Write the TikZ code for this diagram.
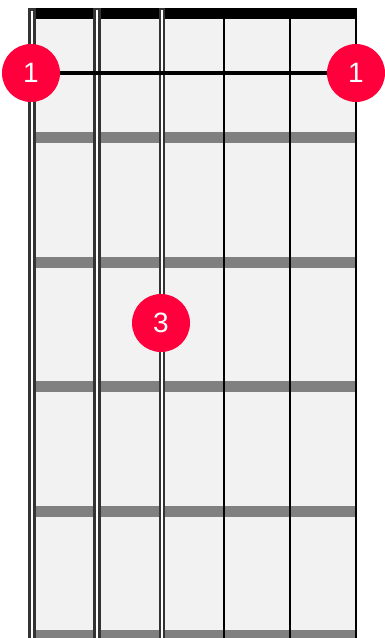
\documentclass[tikz,border=0pt]{standalone}
\usepackage{fontspec}
\setsansfont{Liberation Sans}
\usetikzlibrary{positioning}
\definecolor{Board}{HTML}{F2F2F2}
\definecolor{Fret}{HTML}{808080}
\definecolor{Wound}{HTML}{333333}
\definecolor{Finger}{HTML}{FF003C}

\begin{document}
\begin{tikzpicture}[x=1pt,y=-1pt,
  fretbar/.style={fill=Fret},
  wound/.style={draw=Wound,fill=white,line width=2.6pt},
  plain/.style={black,line width=2pt},
  finger/.style={circle,minimum size=58pt,inner sep=0pt,fill=Finger,text=white,
    font=\sffamily\fontsize{28}{28}\selectfont}]
\useasboundingbox (0,0) rectangle (384,638);
\fill[white] (0,0) rectangle (384,638);
% board and nut
\fill[Board] (32,8) rectangle (356,638);
\fill[black] (32,8) rectangle (356,19);
% frets
\fill[fretbar] (32,132.0) rectangle (356,143.0);
\fill[fretbar] (32,256.5) rectangle (356,267.5);
\fill[fretbar] (32,381.0) rectangle (356,392.0);
\fill[fretbar] (32,505.5) rectangle (356,516.5);
\fill[fretbar] (32,630.0) rectangle (356,641.0);
% strings
\filldraw[wound] (29.3,9.3) rectangle (34.7,642);
\filldraw[wound,line width=2.3pt] (94.4,9.2) rectangle (99.6,642);
\filldraw[wound,line width=1.8pt] (160.2,8.9) rectangle (163.8,642);
\draw[plain] (223.7,8) -- (223.7,638);
\draw[plain] (290.0,8) -- (290.0,638);
\draw[plain] (356.0,8) -- (356.0,638);
% fingers
\node[finger] (barreL) at (31,73) {1};
\node[finger] (barreR) at (356,73) {1};
\node[finger] (dot3) at (161,323) {3};
\draw[black,line width=4pt] (barreL) -- (barreR);
\end{tikzpicture}
\end{document}
